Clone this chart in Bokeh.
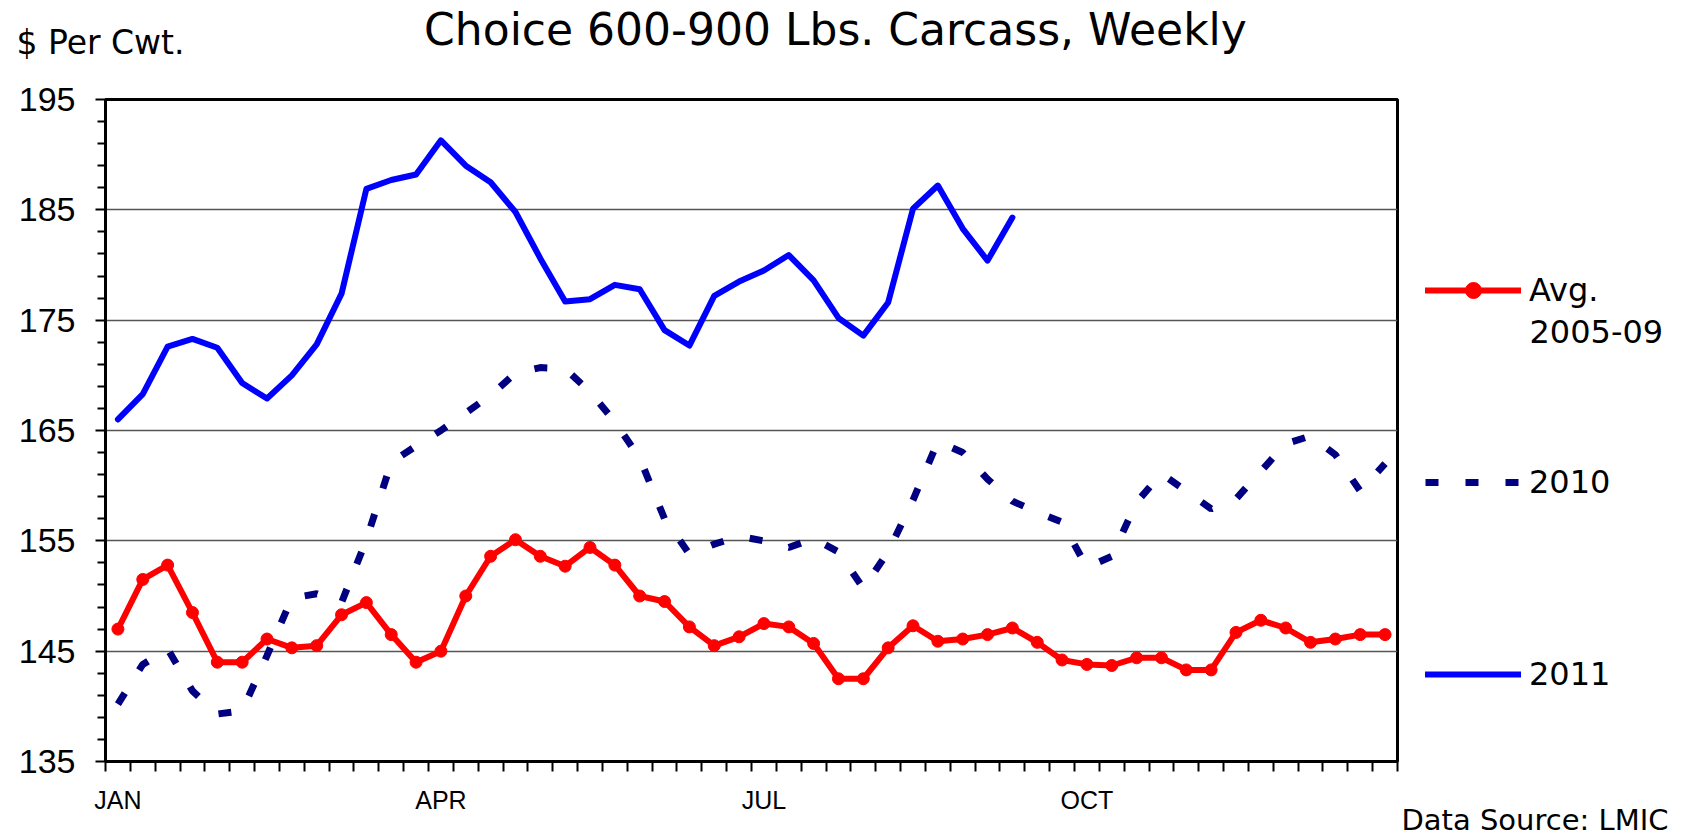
from bokeh.plotting import figure
from bokeh.layouts import column, row
from bokeh.models import Range1d, FixedTicker, Label, Legend, LegendItem
from bokeh.embed import file_html
from bokeh.resources import INLINE

# ---------------- data ----------------
weeks = list(range(1, 53))

avg_2005_09 = [147.0, 151.5, 152.8, 148.5, 144.0, 144.0, 146.1, 145.3, 145.5, 148.3,
               149.4, 146.5, 144.0, 145.0, 150.0, 153.6, 155.1, 153.6, 152.7, 154.4,
               152.8, 150.0, 149.5, 147.2, 145.5, 146.3, 147.5, 147.2, 145.7, 142.5,
               142.5, 145.3, 147.3, 145.9, 146.1, 146.5, 147.1, 145.8, 144.2, 143.8,
               143.7, 144.4, 144.4, 143.3, 143.3, 146.7, 147.8, 147.1, 145.8, 146.1,
               146.5, 146.5]

y2010 = [140.2, 143.8, 145.2, 141.4, 139.3, 139.6, 144.6, 149.8, 150.2, 149.4,
         155.1, 162.1, 163.6, 165.0, 166.6, 168.2, 170.2, 170.7, 170.6, 168.5,
         165.8, 162.5, 157.0, 153.8, 154.7, 155.4, 155.0, 154.4, 155.2, 154.0,
         150.7, 154.0, 158.7, 164.0, 163.0, 160.6, 158.6, 157.6, 156.7, 152.6,
         153.6, 158.5, 161.1, 159.5, 157.9, 158.8, 161.3, 163.8, 164.5, 162.8,
         159.5, 162.0]

y2011 = [166.0, 168.3, 172.6, 173.3, 172.5, 169.3, 167.9, 170.0, 172.8, 177.4,
         186.9, 187.7, 188.2, 191.3, 189.0, 187.5, 184.8, 180.6, 176.7, 176.9,
         178.2, 177.8, 174.1, 172.7, 177.2, 178.5, 179.5, 180.9, 178.6, 175.2,
         173.6, 176.6, 185.1, 187.2, 183.3, 180.4, 184.3]
weeks_2011 = weeks[:len(y2011)]

month_ticks = [1, 14, 27, 40]
month_labels = ["JAN", "APR", "JUL", "OCT"]
y_ticks = [135, 145, 155, 165, 175, 185, 195]
y_minor = [v for v in range(137, 195, 2) if v not in y_ticks]
week_bounds = [0.5 + i for i in range(53)]

series_names = ["Avg.", "2010", "2011"]
avg_years = "2005-09"
title_text = "Choice 600-900 Lbs. Carcass, Weekly"
unit_text = "$ Per Cwt."
source_text = "Data Source: LMIC"

RED, NAVY, BLUE = "#FF0000", "#000080", "#0000FF"
FONT = "DejaVu Sans"
AXFONT = "Liberation Sans"

# ---------------- layout sizes ----------------
W, H = 1685, 837
TOP_H = 68
MAIN_W = 1402
SIDE_W = W - MAIN_W
BODY_H = H - TOP_H


def blank(width, height):
    f = figure(width=width, height=height, output_backend="svg",
               toolbar_location=None, x_axis_location=None, y_axis_location=None,
               x_range=Range1d(0, 1), y_range=Range1d(0, 1),
               min_border_left=0, min_border_right=0, min_border_top=0,
               min_border_bottom=0, outline_line_color=None,
               background_fill_color="white", border_fill_color="white")
    f.grid.visible = False
    return f


def mid(baseline_from_top, size):
    # vertical middle of a text line, from its baseline
    return baseline_from_top - 0.346 * size


# ---------------- top strip: title and unit ----------------
top = blank(W, TOP_H)
top.add_layout(Label(x=835, y=TOP_H - mid(44.3, 44), x_units="screen",
                     y_units="screen", text=title_text, text_font=FONT,
                     text_font_size="44px", text_color="black",
                     text_align="center", text_baseline="middle"))
top.add_layout(Label(x=16, y=TOP_H - mid(53.3, 33), x_units="screen",
                     y_units="screen", text=unit_text, text_font=FONT,
                     text_font_size="33px", text_color="black",
                     text_align="left", text_baseline="middle"))

# ---------------- main chart ----------------
p = figure(width=MAIN_W, height=BODY_H, output_backend="svg", toolbar_location=None,
           x_range=Range1d(0.5, 52.5), y_range=Range1d(135, 195),
           min_border_left=105, min_border_right=5, min_border_top=99 - TOP_H,
           min_border_bottom=BODY_H - (761 - TOP_H),
           background_fill_color="white", border_fill_color="white")

p.outline_line_color = "black"
p.outline_line_width = 3

p.xaxis.ticker = FixedTicker(ticks=month_ticks, minor_ticks=week_bounds)
p.xaxis.major_label_overrides = {t: l for t, l in zip(month_ticks, month_labels)}
p.xaxis.major_tick_out = 0
p.xaxis.major_tick_in = 0
p.xaxis.major_tick_line_color = None
p.xaxis.minor_tick_out = 10
p.xaxis.minor_tick_in = 0
p.xaxis.minor_tick_line_width = 2
p.xaxis.minor_tick_line_color = "black"
p.xaxis.major_label_standoff = 14
p.xaxis.major_label_text_font = AXFONT
p.xaxis.major_label_text_font_size = "25px"
p.xaxis.major_label_text_color = "black"
p.xaxis.axis_line_width = 3
p.xaxis.axis_line_color = "black"
p.xgrid.visible = False

p.yaxis.ticker = FixedTicker(ticks=y_ticks, minor_ticks=y_minor)
p.yaxis.major_tick_out = 10
p.yaxis.major_tick_in = 0
p.yaxis.minor_tick_out = 8
p.yaxis.minor_tick_in = 0
p.yaxis.major_tick_line_width = 2
p.yaxis.minor_tick_line_width = 2
p.yaxis.major_tick_line_color = "black"
p.yaxis.minor_tick_line_color = "black"
p.yaxis.major_label_standoff = 20
p.yaxis.major_label_text_font = AXFONT
p.yaxis.major_label_text_font_size = "34px"
p.yaxis.major_label_text_color = "black"
p.yaxis.axis_line_width = 3
p.yaxis.axis_line_color = "black"
p.ygrid.grid_line_color = "#555555"
p.ygrid.grid_line_width = 1.3

p.line(weeks, y2010, line_color=NAVY, line_width=7, line_dash="13 27",
       line_cap="butt")
p.line(weeks, avg_2005_09, line_color=RED, line_width=6,
       line_join="round", line_cap="round")
p.scatter(weeks, avg_2005_09, size=12, fill_color=RED, line_color=RED)
p.line(weeks_2011, y2011, line_color=BLUE, line_width=6,
       line_join="round", line_cap="round")

# ---------------- right strip: legend and source ----------------
# the series are drawn again here only to give the legend its glyphs;
# they fall outside this panel's ranges and are therefore not visible.
side = blank(SIDE_W, BODY_H)
k_avg = side.line(weeks, avg_2005_09, line_color=RED, line_width=6, line_cap="round")
k_avg_pt = side.scatter(weeks, avg_2005_09, size=12, fill_color=RED, line_color=RED)
k_2010 = side.line(weeks, y2010, line_color=NAVY, line_width=7, line_dash="13 27")
k_2011 = side.line(weeks_2011, y2011, line_color=BLUE, line_width=6, line_cap="round")

legend = Legend(items=[LegendItem(label=series_names[0], renderers=[k_avg, k_avg_pt]),
                       LegendItem(label=series_names[1], renderers=[k_2010]),
                       LegendItem(label=series_names[2], renderers=[k_2011])],
                location=(23, 143), orientation="vertical",
                border_line_color=None, background_fill_alpha=0,
                padding=0, margin=0, spacing=152,
                glyph_width=96, glyph_height=40, label_height=40,
                label_standoff=8, label_text_font=FONT,
                label_text_font_size="32px", label_text_color="black")
side.add_layout(legend)

side.add_layout(Label(x=127, y=H - mid(341.7, 32), x_units="screen", y_units="screen",
                      text=avg_years, text_font=FONT, text_font_size="32px",
                      text_color="black", text_baseline="middle"))
side.add_layout(Label(x=266, y=H - mid(829.6, 29), x_units="screen", y_units="screen",
                      text=source_text, text_font=FONT, text_font_size="29px",
                      text_color="black", text_align="right",
                      text_baseline="middle"))

page = column(top, row(p, column(side, spacing=0), spacing=0), spacing=0)

open("out.html", "w").write(file_html(page, INLINE))
